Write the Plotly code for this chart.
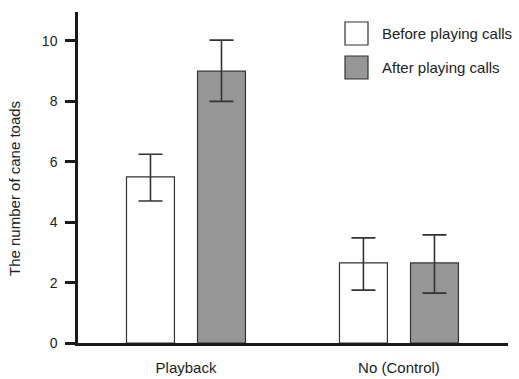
import plotly.graph_objects as go

categories = ["Playback", "No (Control)"]
series_names = ["Before playing calls", "After playing calls"]
before_vals = [5.5, 2.65]
before_err_plus = [0.75, 0.83]
before_err_minus = [0.8, 0.9]
after_vals = [9.0, 2.65]
after_err_plus = [1.03, 0.93]
after_err_minus = [1.0, 1.0]
y_ticks = [0, 2, 4, 6, 8, 10]

FONT = "Liberation Sans"
TXT = "#222222"
EDGE = "#333333"
GRAY = "#969696"
FS = 15
TFS = 14

fig = go.Figure()
fig.add_trace(go.Bar(
    x=categories, y=before_vals, name=series_names[0],
    marker=dict(color="white", line=dict(color=EDGE, width=1.2)),
    error_y=dict(type="data", symmetric=False, array=before_err_plus,
                 arrayminus=before_err_minus, color=EDGE, thickness=1.6, width=12),
    showlegend=False,
))
fig.add_trace(go.Bar(
    x=categories, y=after_vals, name=series_names[1],
    marker=dict(color=GRAY, line=dict(color=EDGE, width=1.2)),
    error_y=dict(type="data", symmetric=False, array=after_err_plus,
                 arrayminus=after_err_minus, color=EDGE, thickness=1.6, width=12),
    showlegend=False,
))

# manual legend (boxes + labels)
legend_fills = ["white", GRAY]
for i, (nm, fc) in enumerate(zip(series_names, legend_fills)):
    y0 = 22 + i * 34
    fig.add_shape(type="rect", xref="paper", yref="paper",
                  x0=(345 - 78) / 430, x1=(368 - 78) / 430,
                  y0=(343 - (y0 + 23)) / 331, y1=(343 - y0) / 331,
                  fillcolor=fc, line=dict(color=EDGE, width=1.2), layer="above")
    fig.add_annotation(text=nm, xref="paper", yref="paper",
                       x=(380 - 78) / 430, y=(343 - (y0 + 11.5)) / 331,
                       xanchor="left", yanchor="middle", showarrow=False,
                       font=dict(family=FONT, size=FS, color=TXT))

fig.add_annotation(text="The number of cane toads", xref="paper", yref="paper",
                   x=(14 - 78) / 430, y=(343 - 189) / 331, textangle=-90,
                   xanchor="center", yanchor="middle", showarrow=False,
                   font=dict(family=FONT, size=FS, color=TXT))

fig.update_layout(
    width=519, height=379,
    margin=dict(l=78, r=11, t=12, b=36),
    paper_bgcolor="white", plot_bgcolor="white",
    barmode="group", bargap=0.333, bargroupgap=0.325,
    font=dict(family=FONT, size=FS, color=TXT),
    xaxis=dict(range=[-0.507, 1.512], showline=True, linecolor="#1a1a1a", linewidth=2.5,
               ticks="", showgrid=False, zeroline=False, ticklabelstandoff=9,
               automargin=False, tickfont=dict(family=FONT, size=FS, color=TXT)),
    yaxis=dict(range=[0, 10.96], showline=True, linecolor="#1a1a1a", linewidth=2.5,
               ticks="outside", ticklen=10, tickwidth=2.5, tickcolor="#1a1a1a",
               tickvals=y_ticks, showgrid=False, zeroline=False, automargin=False,
               ticklabelstandoff=5,
               tickfont=dict(family=FONT, size=TFS, color=TXT)),
)

fig.write_html("out.html", config={"displayModeBar": False},
               post_script="document.body.style.margin='0';")
